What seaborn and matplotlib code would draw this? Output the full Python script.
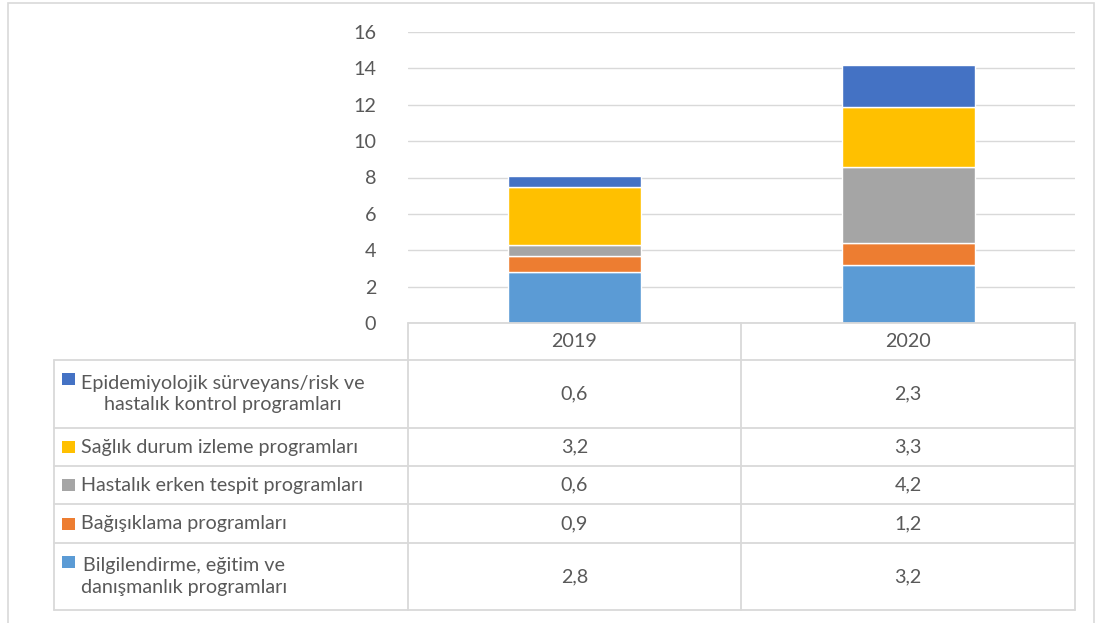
import matplotlib
matplotlib.use("Agg")
import matplotlib.pyplot as plt
from matplotlib.lines import Line2D
from matplotlib.patches import Rectangle
import seaborn as sns

years = ["2019", "2020"]
# series from bottom of the stack to top
series = [
    "Bilgilendirme, eğitim ve\ndanışmanlık programları",
    "Bağışıklama programları",
    "Hastalık erken tespit programları",
    "Sağlık durum izleme programları",
    "Epidemiyolojik sürveyans/risk ve\nhastalık kontrol programları",
]
bilgi = [2.8, 3.2]
asi = [0.9, 1.2]
erken = [0.6, 4.2]
izleme = [3.2, 3.3]
epi = [0.6, 2.3]
values = [bilgi, asi, erken, izleme, epi]
colors = ["#5B9BD5", "#ED7D31", "#A5A5A5", "#FFC000", "#4472C4"]

sns.set_style("white")
plt.rcParams["font.family"] = ["Lato", "DejaVu Sans"]
txt_col = "#595959"
grid_col = "#D9D9D9"
fs = 14.2

W, H = 1105, 623
fig = plt.figure(figsize=(W / 100, H / 100), dpi=100)

def fx(px):
    return px / W

def fy(py):
    return 1 - py / H

# outer chart border
fig.add_artist(Rectangle((fx(8), fy(640)), fx(1094) - fx(8), fy(3) - fy(640),
                         transform=fig.transFigure, fill=False, edgecolor=grid_col, lw=1.2))

ax = fig.add_axes([fx(408), fy(323), fx(1075) - fx(408), fy(32) - fy(323)])

bottom = [0, 0]
for vals, c in zip(values, colors):
    sns.barplot(x=years, y=vals, bottom=bottom, color=c, saturation=1, width=0.4,
                errorbar=None, ax=ax, zorder=3)
    bottom = [b + v for b, v in zip(bottom, vals)]

ax.set_ylim(0, 16)
ax.set_yticks(range(0, 17, 2))
ax.set_xlim(-0.5, 1.5)
ax.yaxis.grid(True, color=grid_col, lw=1)
ax.set_axisbelow(True)
for s in ax.spines.values():
    s.set_visible(False)
ax.tick_params(axis="y", length=0, pad=23, labelsize=fs, labelcolor=txt_col)
ax.set_xticks([])
ax.set_xlabel("")
ax.set_ylabel("")

# data table below the plot
col_x = [54, 408, 741, 1075]
row_y = [323, 360, 428, 466, 504, 543, 610]

def hline(y, x0, x1):
    fig.add_artist(Line2D([fx(x0), fx(x1)], [fy(y), fy(y)], transform=fig.transFigure,
                          color=grid_col, lw=1.3))

def vline(x, y0, y1):
    fig.add_artist(Line2D([fx(x), fx(x)], [fy(y0), fy(y1)], transform=fig.transFigure,
                          color=grid_col, lw=1.3))

hline(row_y[0], col_x[1], col_x[3])
for y in row_y[1:]:
    hline(y, col_x[0], col_x[3])
vline(col_x[0], row_y[1], row_y[-1])
for x in col_x[1:]:
    vline(x, row_y[0], row_y[-1])

col_c = [(col_x[1] + col_x[2]) / 2, (col_x[2] + col_x[3]) / 2]
for cx, yr in zip(col_c, years):
    fig.text(fx(cx), fy((row_y[0] + row_y[1]) / 2), yr, ha="center", va="center",
             fontsize=fs, color=txt_col)

# table rows go top to bottom, i.e. reverse of the stack
for i, k in enumerate(reversed(range(len(series)))):
    y0, y1 = row_y[i + 1], row_y[i + 2]
    yc = (y0 + y1) / 2
    name = series[k]
    two_lines = "\n" in name
    fig.text(fx(81), fy(yc), name, ha="left", va="center", fontsize=fs,
             color=txt_col, multialignment="center", linespacing=1.3)
    my = yc - 15 if two_lines else yc
    fig.add_artist(Rectangle((fx(62), fy(my + 6)), fx(75) - fx(62), fy(my - 6) - fy(my + 6),
                             transform=fig.transFigure, color=colors[k], lw=0))
    for cx, v in zip(col_c, values[k]):
        fig.text(fx(cx), fy(yc), f"{v:.1f}".replace(".", ","), ha="center", va="center",
                 fontsize=fs, color=txt_col)

fig.savefig("out.png", dpi=100, facecolor="white")
